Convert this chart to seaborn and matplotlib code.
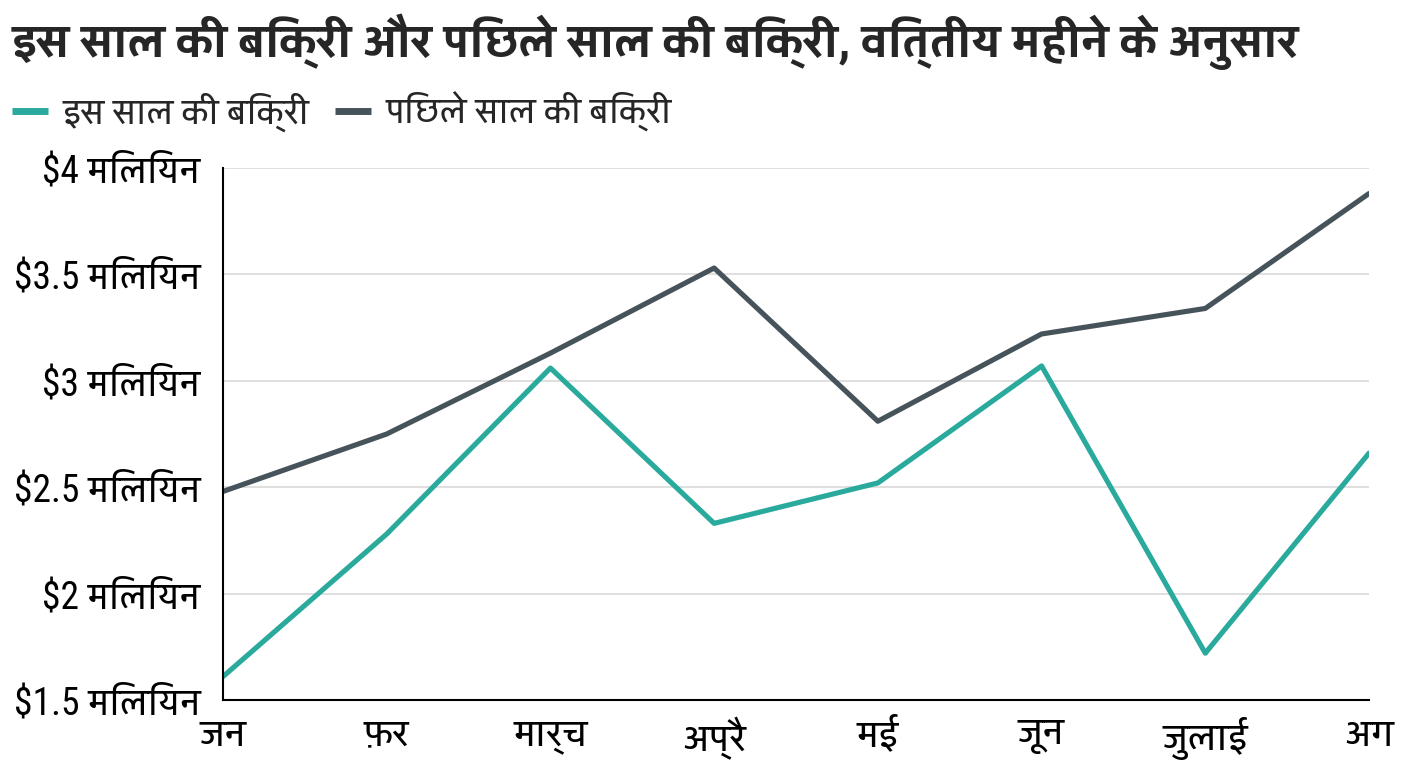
import matplotlib
matplotlib.use('Agg')

import pandas as pd
import matplotlib.pyplot as plt
import seaborn as sns

sns.set_theme(style='white')
FONTS = ['Roboto Condensed', 'Yantramanav', 'Noto Sans Devanagari', 'DejaVu Sans']
plt.rcParams['font.family'] = FONTS

# ─────────────────────────────────────────
# 데이터 (백만 달러)
# ─────────────────────────────────────────
months = ["जन", "\u095eर", "मार्च", "अप्रै", "मई", "जून", "जुलाई", "अग"]
this_year = [1.61, 2.28, 3.06, 2.33, 2.52, 3.07, 1.72, 2.66]
last_year = [2.48, 2.75, 3.13, 3.53, 2.81, 3.22, 3.34, 3.88]
series_names = ["इस साल की बिक्री", "पिछले साल की बिक्री"]
y_ticks = [1.5, 2, 2.5, 3, 3.5, 4]
y_tick_labels = ["$1.5 मिलियन", "$2 मिलियन", "$2.5 मिलियन", "$3 मिलियन", "$3.5 मिलियन", "$4 मिलियन"]
title = "इस साल की बिक्री और पिछले साल की बिक्री, वित्तीय महीने के अनुसार"

df = pd.concat([
    pd.DataFrame({"month": months, "sales": this_year, "series": series_names[0]}),
    pd.DataFrame({"month": months, "sales": last_year, "series": series_names[1]}),
], ignore_index=True)

colors = {series_names[0]: "#2AAA9C", series_names[1]: "#47535B"}

fig = plt.figure(figsize=(14.08, 7.68), dpi=100)
ax = fig.add_axes([223 / 1408, 68 / 768, 1146 / 1408, 532 / 768])

sns.lineplot(data=df, x="month", y="sales", hue="series", palette=colors,
             linewidth=3.7, sort=False, ax=ax)

ax.set_xlim(0, len(months) - 1)
ax.set_ylim(1.5, 4)
ax.set_yticks(y_ticks)
ax.set_yticklabels(y_tick_labels)
ax.set_xticks(range(len(months)))
ax.set_xticklabels(months)
ax.tick_params(axis='y', length=0, pad=16, labelsize=27, colors='black')
ax.tick_params(axis='x', length=0, pad=12, labelsize=28, colors='black')
ax.set_xlabel("")
ax.set_ylabel("")
ax.grid(axis='y', color='#D9D9D9', linewidth=1.2)
ax.grid(axis='x', visible=False)
for s in ['top', 'right']:
    ax.spines[s].set_visible(False)
for s in ['left', 'bottom']:
    ax.spines[s].set_color('black')
    ax.spines[s].set_linewidth(1.5)

handles, labels = ax.get_legend_handles_labels()
ax.get_legend().remove()
leg = fig.legend(handles, labels, loc='center left', bbox_to_anchor=(12 / 1408, 1 - 112 / 768),
                 ncol=2, frameon=False, fontsize=26, handlelength=1.0,
                 handletextpad=0.4, columnspacing=0.7, borderaxespad=0, borderpad=0)
for line in leg.get_lines():
    line.set_linewidth(5)
    line.set_solid_capstyle('butt')

fig.text(0.008, 1 - 42 / 768, title, fontsize=34.5, fontweight='bold', va='center', ha='left')

fig.savefig('out.png', dpi=100)
plt.close()
